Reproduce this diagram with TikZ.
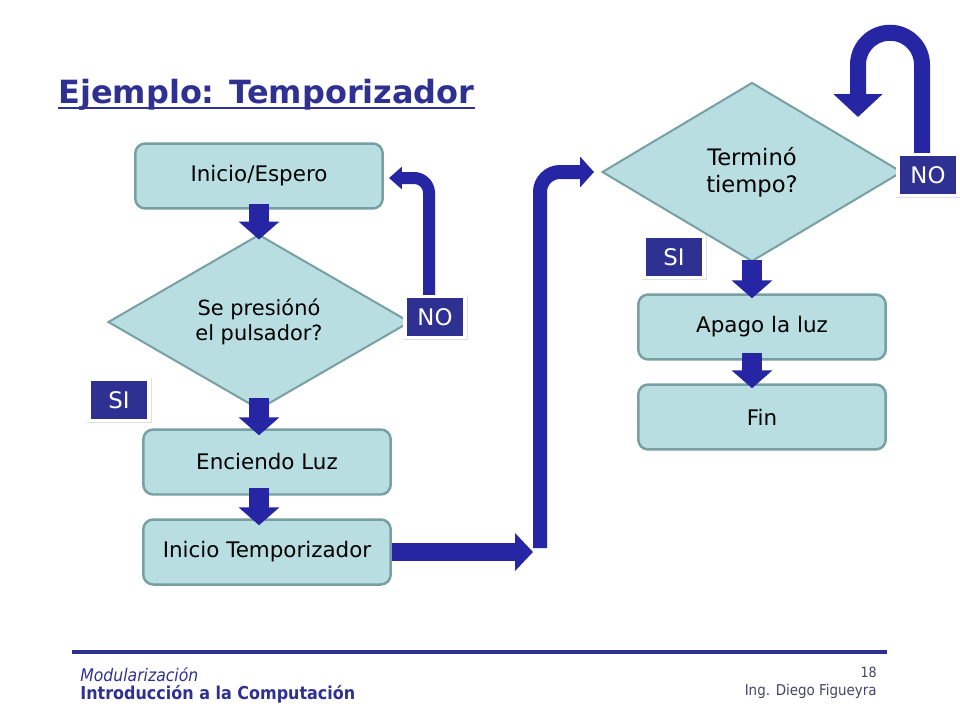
\documentclass[tikz,border=0pt]{standalone}
\usepackage{fontspec}
\setmainfont{DejaVu Sans}
\newfontfamily\footfont[FakeStretch=0.9]{DejaVu Sans}
\usepackage{tikz}
\usetikzlibrary{shapes.geometric,arrows.meta,calc,shadows}
\definecolor{boxfill}{RGB}{184,222,225}
\definecolor{boxline}{RGB}{120,160,162}
\definecolor{labblue}{RGB}{46,49,146}
\definecolor{arrblue}{RGB}{38,38,165}
\definecolor{footgray}{RGB}{70,70,100}

\begin{document}
\begin{tikzpicture}[x=0.02cm,y=-0.02cm,
	box/.style={draw=boxline,fill=boxfill,line width=0.05cm,rounded corners=0.2cm,minimum width=4.95cm,minimum height=1.3cm,font=\fontsize{12.2pt}{14.6pt}\selectfont},
	dec/.style={diamond,draw=boxline,fill=boxfill,line width=0.04cm,inner sep=0pt,align=center,font=\fontsize{11.9pt}{14.2pt}\selectfont},
	lab/.style={fill=labblue,draw=white,line width=0.07cm,text=white,minimum width=1.2cm,minimum height=0.82cm,inner sep=0pt,font=\fontsize{13pt}{15pt}\selectfont,drop shadow={opacity=0.25,shadow scale=1.08,shadow xshift=0.005cm,shadow yshift=-0.01cm}},
	down/.style={arrblue,line width=0.4cm,-{Triangle[length=0.36cm,width=0.8cm]}},
	loopl/.style={arrblue,line width=0.24cm,rounded corners=0.3cm,-{Triangle[length=0.26cm,width=0.44cm]}},
	bigh/.style={arrblue,line width=0.36cm,-{Triangle[length=0.36cm,width=0.74cm]}},
	bigv/.style={arrblue,line width=0.28cm,rounded corners=0.4cm,-{Triangle[length=0.28cm,width=0.6cm]}},
	uturn/.style={arrblue,line width=0.32cm,-{Triangle[length=0.46cm,width=0.96cm]}}]
	\useasboundingbox[fill=white] (0,0) rectangle (960,720);
	\node[anchor=base west,inner sep=0pt,text=labblue,font=\fontsize{18.2pt}{22pt}\selectfont\bfseries] (title) at (58,103) {Ejemplo: Temporizador};
	\draw[labblue,line width=0.04cm] ([yshift=-0.1cm]title.base west) -- ([yshift=-0.1cm]title.base east);

	\node[box] (inicio) at (259,176) {Inicio/Espero};
	\node[dec,minimum width=6.04cm,minimum height=3.5cm] (pres) at (259,322) {Se presiónó\\el pulsador?};
	\node[box] (luz) at (267,462) {Enciendo Luz};
	\node[box] (temp) at (267,552) {Inicio Temporizador};
	\node[dec,minimum width=6cm,minimum height=3.58cm,font=\fontsize{12.9pt}{15.3pt}\selectfont] (term) at (752,172) {Terminó\\tiempo?};
	\node[box] (apago) at (762,327) {Apago la luz};
	\node[box] (fin) at (762,417) {Fin};

	\draw[down] ($(inicio.south)+(0,-6)$) -- ($(pres.north)+(0,6)$);
	\draw[down] ($(pres.south)+(0,-12)$) -- ($(pres.south |- luz.north)+(0,7)$);
	\draw[down] ($(pres.south |- luz.south)+(0,-8)$) -- ($(pres.south |- temp.north)+(0,7)$);
	\draw[down] ($(term.south)+(0,-2)$) -- ($(term.south |- apago.north)+(0,5)$);
	\draw[down] ($(term.south |- apago.south)+(0,-8)$) -- ($(term.south |- fin.north)+(0,5)$);

	\node[lab] (noL) at (435,317) {NO};
	\node[lab] (siL) at (119,400) {SI};
	\node[lab] (noR) at (928,175) {NO};
	\node[lab] (siR) at (674,257) {SI};

	\draw[loopl] ($(noL.north)+(-6,0)$) |- ($(inicio.east)+(5,2)$);
	\coordinate (jog) at (540,548);
	\draw[bigh] (temp.east) -- ($(temp.east -| jog)+(-7,0)$);
	\draw[bigv] (jog) |- ($(term.west)+(-7,0)$);
	\coordinate (back) at (858,117);
	\draw[uturn] ($(noR.north)+(-6,0)$) -- ($(noR.north)+(-6,-88)$) arc[start angle=0,end angle=-180,radius=32] -- (back);

	\draw[labblue,line width=0.08cm] (72,652) -- (887,652);
	\node[anchor=base west,inner sep=0pt,text=labblue,font=\footfont\itshape\fontsize{9.9pt}{11pt}\selectfont] (mod) at (80,681) {Modularización};
	\node[anchor=base west,inner sep=0pt,text=labblue,font=\footfont\bfseries\fontsize{10.1pt}{12pt}\selectfont] (curso) at (80,699) {Introducción a la Computación};
	\node[anchor=base east,inner sep=0pt,text=footgray,font=\footfont\fontsize{8pt}{10pt}\selectfont] (pag) at (877,677) {18};
	\node[anchor=base east,inner sep=0pt,text=footgray,font=\footfont\fontsize{8.5pt}{10pt}\selectfont] (autor) at (877,695) {Ing. Diego Figueyra};
\end{tikzpicture}
\end{document}
